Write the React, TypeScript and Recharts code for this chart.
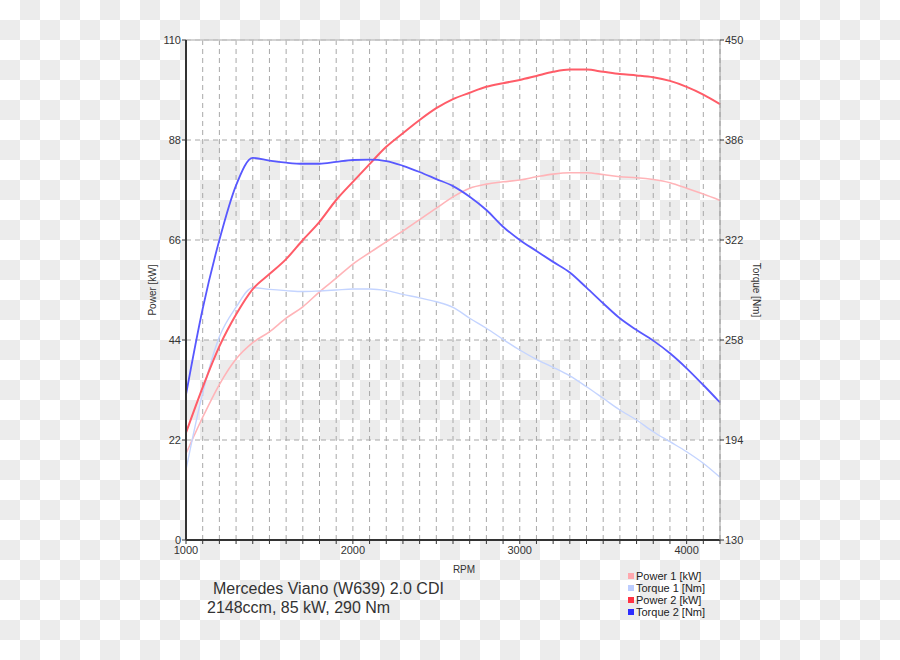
import {
  LineChart,
  Line,
  XAxis,
  YAxis,
  CartesianGrid,
  ReferenceLine
} from "recharts";

// ---- data (every 100 rpm) ----
const rpm = [
  1000, 1100, 1200, 1300, 1400, 1500, 1600, 1700, 1800, 1900, 2000,
  2100, 2200, 2300, 2400, 2500, 2600, 2700, 2800, 2900, 3000,
  3100, 3200, 3300, 3400, 3500, 3600, 3700, 3800, 3900, 4000,
  4100, 4200
];

const power1 = [
  19, 27, 34.2, 39.8, 43.4, 45.8, 48.8, 51.3, 54.6, 57.6, 60.7,
  63.2, 65.6, 68, 70.5, 73, 75.5, 77.4, 78.3, 78.8, 79.2,
  79.9, 80.5, 80.8, 80.8, 80.4, 79.9, 79.7, 79.3, 78.6, 77.4,
  76.1, 74.7
];

const torque1 = [
  175, 224, 260, 279, 291.5, 290.4, 289.6, 289, 289.4, 290, 290.6,
  290.6, 289.6, 287.2, 285, 282.5, 278.9, 271.9, 265.5, 258.4, 251.6,
  245.6, 240.5, 235, 228.1, 220.7, 213.2, 206.8, 199.3, 192.9, 186.5,
  179.1, 170.1
];

const power2 = [
  23.6, 33.6, 42.6, 49.6, 55.2, 58.5, 61.8, 66, 70, 74.8, 78.8,
  82.7, 86.5, 89.5, 92.4, 95, 97, 98.4, 99.7, 100.5, 101.2,
  102.1, 103, 103.5, 103.5, 103, 102.5, 102.2, 101.8, 101, 99.7,
  98, 95.9
];

const torque2 = [
  223, 278, 322, 357, 374.5, 372.8, 371.5, 370.8, 370.8, 372, 373.2,
  373.4, 372.5, 369.5, 365.5, 361, 356.5, 349.7, 341.2, 330.5, 322,
  315, 308, 301.2, 291.5, 281.5, 271.9, 264.4, 257.6, 249.5, 239.9,
  229.2, 218
];

const powerTicks = [0, 22, 44, 66, 88, 110];
const torqueTicks = [130, 194, 258, 322, 386, 450];

const series = [
  { key: "power1", name: "Power 1 [kW]", axis: "left", color: "#ffb4b8", legend: "#ffa8ae", width: 1.6 },
  { key: "torque1", name: "Torque 1 [Nm]", axis: "right", color: "#c4d4ff", legend: "#bccdff", width: 1.4 },
  { key: "power2", name: "Power 2 [kW]", axis: "left", color: "#ff5c68", legend: "#ff3344", width: 2 },
  { key: "torque2", name: "Torque 2 [Nm]", axis: "right", color: "#5858ff", legend: "#2c2cff", width: 1.8 }
];

const data = rpm.map((r, i) => ({
  rpm: r,
  power1: power1[i],
  torque1: torque1[i],
  power2: power2[i],
  torque2: torque2[i]
}));

const FONT = "'Liberation Sans', Arial, sans-serif";
const tickStyle = { fontSize: 11, fill: "#333", fontFamily: FONT };

function LegendBox() {
  return (
    <div style={legendStyle}>
      {series.map((s) => (
        <div key={s.key} style={{ display: "flex", alignItems: "center" }}>
          <span
            style={{
              width: 6,
              height: 6,
              background: s.legend,
              display: "inline-block",
              marginRight: 2
            }}
          />
          {s.name}
        </div>
      ))}
    </div>
  );
}

export default function App() {
  return (
    <div style={page}>
      <LineChart
        width={900}
        height={660}
        data={data}
        margin={{ top: 40, left: 146, right: 140, bottom: 80 }}
        style={{ position: "absolute", left: 0, top: 0 }}
      >
        <CartesianGrid
          yAxisId="left"
          stroke="#a8a8a8"
          strokeDasharray="5 4"
          horizontalFill={["#ffffff", "transparent"]}
        />
        <ReferenceLine yAxisId="left" y={110} stroke="#c4c4c4" strokeWidth={1.5} />
        <XAxis
          dataKey="rpm"
          type="number"
          domain={[1000, 4200]}
          ticks={rpm}
          interval={0}
          height={40}
          tickSize={4}
          tickMargin={2}
          tick={tickStyle}
          tickFormatter={(v: number) => (v % 1000 === 0 ? String(v) : "")}
          axisLine={{ stroke: "#333", strokeWidth: 2 }}
          tickLine={{ stroke: "#333" }}
          label={{
            value: "RPM",
            position: "insideBottom",
            offset: 7,
            dx: 11,
            style: { fontSize: 10, fill: "#333", fontFamily: FONT }
          }}
        />
        <YAxis
          yAxisId="left"
          domain={[0, 110]}
          ticks={powerTicks}
          interval={0}
          width={40}
          tickSize={4}
          tickMargin={1}
          tick={tickStyle}
          axisLine={{ stroke: "#333", strokeWidth: 2 }}
          tickLine={{ stroke: "#333" }}
          label={{
            value: "Power [kW]",
            angle: -90,
            position: "insideLeft",
            offset: 6,
            style: { fontSize: 10, fill: "#333", fontFamily: FONT, textAnchor: "middle" }
          }}
        />
        <YAxis
          yAxisId="right"
          orientation="right"
          domain={[130, 450]}
          ticks={torqueTicks}
          interval={0}
          width={40}
          tickSize={4}
          tickMargin={1}
          tick={tickStyle}
          axisLine={{ stroke: "#9a9a9a" }}
          tickLine={{ stroke: "#333" }}
          label={{
            value: "Torque [Nm]",
            angle: 90,
            position: "insideRight",
            offset: 3,
            style: { fontSize: 10, fill: "#333", fontFamily: FONT, textAnchor: "middle" }
          }}
        />
        {series.map((s) => (
          <Line
            key={s.key}
            yAxisId={s.axis}
            dataKey={s.key}
            name={s.name}
            type="monotone"
            stroke={s.color}
            strokeWidth={s.width}
            dot={false}
            activeDot={false}
            isAnimationActive={false}
          />
        ))}
      </LineChart>

      <LegendBox />
      <div style={titleLine1}>Mercedes Viano (W639) 2.0 CDI</div>
      <div style={titleLine2}>2148ccm, 85 kW, 290 Nm</div>
    </div>
  );
}

/* ---------- styles ---------- */

const page = {
  position: "absolute" as const,
  left: 0,
  top: 0,
  width: 900,
  height: 660,
  overflow: "hidden",
  backgroundColor: "#fff",
  backgroundImage:
    "conic-gradient(#ececec 0 25%, #ffffff 0 50%, #ececec 0 75%, #ffffff 0)",
  backgroundSize: "40px 40px"
};

const legendStyle = {
  position: "absolute" as const,
  left: 628,
  top: 570,
  fontFamily: FONT,
  fontSize: 11,
  color: "#222",
  lineHeight: "12px",
  whiteSpace: "nowrap" as const
};

const titleLine1 = {
  position: "absolute" as const,
  left: 213,
  top: 580,
  fontFamily: FONT,
  fontSize: 16,
  color: "#333",
  whiteSpace: "nowrap" as const
};

const titleLine2 = {
  position: "absolute" as const,
  left: 207,
  top: 599,
  fontFamily: FONT,
  fontSize: 16,
  color: "#333",
  whiteSpace: "nowrap" as const
};
